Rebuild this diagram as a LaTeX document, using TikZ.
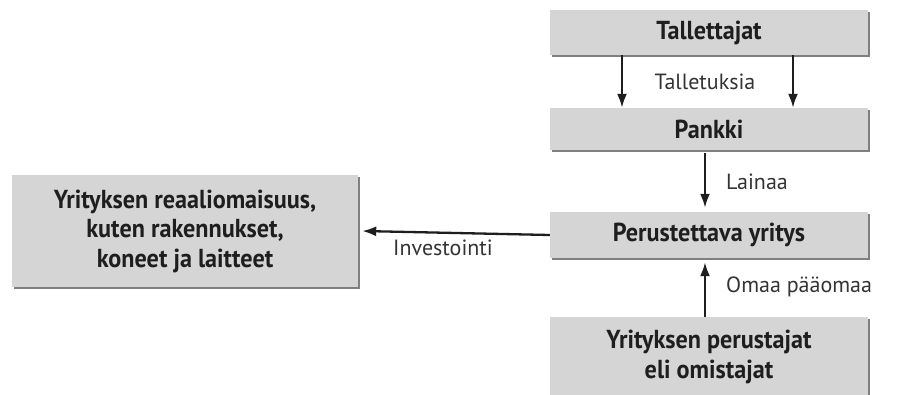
\documentclass[tikz,border=0pt]{standalone}
\usepackage{fontspec}
\setsansfont{PT Sans}
\newfontfamily\finbold{PT Sans}[FakeStretch=0.93]
\usetikzlibrary{arrows.meta,shadows}
\definecolor{finBox}{HTML}{D5D5D5}
\definecolor{finShade}{HTML}{808080}
\definecolor{finInk}{HTML}{1E1E1E}
\definecolor{finText}{HTML}{333333}
\tikzset{
  fin box/.style={fill=finBox, draw=none, minimum width=318pt, inner sep=0pt, align=center,
    font=\finbold\bfseries\fontsize{26}{29.5}\selectfont, text=finInk,
    drop shadow={shadow xshift=1.6pt, shadow yshift=-1.6pt, fill=finShade, opacity=1}},
  fin arrow/.style={draw=finInk, line width=2.3pt, -{Latex[length=14pt,width=10pt]}},
  fin label/.style={font=\sffamily\fontsize{22}{25}\selectfont, text=finText, inner sep=0pt},
}
\begin{document}
\begin{tikzpicture}[x=1pt,y=-1pt]
\useasboundingbox (0,0) rectangle (897,394);
\node[fin box, minimum height=45pt] (tall) at (709,32.5) {Tallettajat};
\node[fin box, minimum height=42pt] (pank) at (709,129) {Pankki};
\node[fin box, minimum height=46pt] (perus) at (709,235) {Perustettava yritys};
\node[fin box, minimum height=80pt] (omist) at (709,357) {Yrityksen perustajat\\eli omistajat};
\node[fin box, minimum width=346pt, minimum height=112pt] (reaali) at (185,231) {Yrityksen reaaliomaisuus,\\kuten rakennukset,\\koneet ja laitteet};
\draw[fin arrow]([xshift=-87pt]tall.south)--([xshift=-87pt]pank.north);
\draw[fin arrow]([xshift=84pt]tall.south)--([xshift=84pt]pank.north);
\draw[fin arrow]([xshift=-4pt,yshift=-3pt]pank.south)--([xshift=-4pt,yshift=4pt]perus.north);
\draw[fin arrow]([xshift=-4pt]omist.north)--([xshift=-4pt,yshift=-4pt]perus.south);
\draw[fin arrow](perus.west)--([xshift=4pt]reaali.east);
\node[fin label] (talletus) at (705,82) {Talletuksia};
\node[fin label, anchor=west] (laina) at (726,182) {Lainaa};
\node[fin label, anchor=west] (omaa) at (726,287) {Omaa pääomaa};
\node[fin label] (invest) at (443,248) {Investointi};
\end{tikzpicture}
\end{document}
